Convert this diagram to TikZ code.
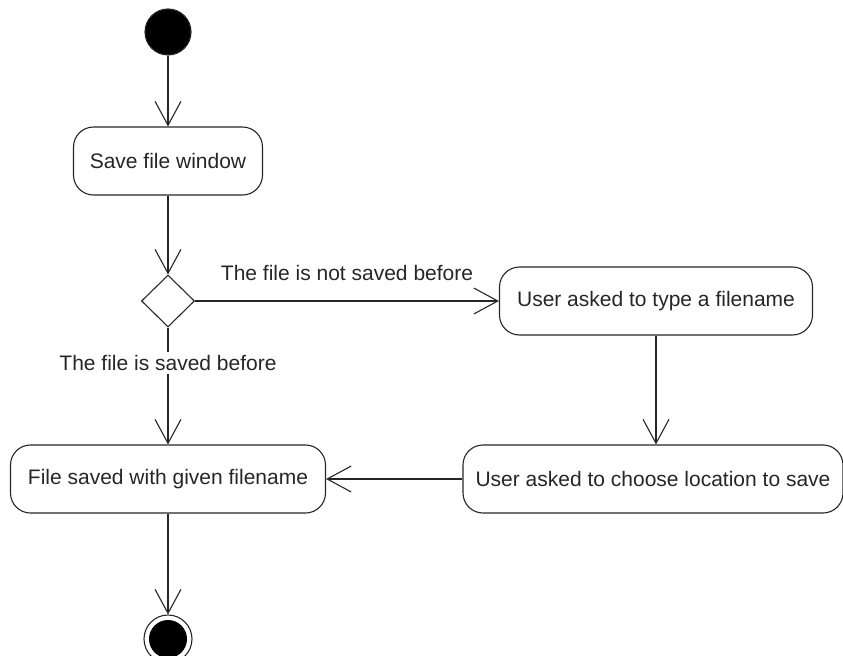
\documentclass[tikz,border=0pt]{standalone}
\usepackage{fontspec}
\setmainfont{Liberation Sans}
\usetikzlibrary{shapes,arrows.meta}
\tikzset{
        action/.style={draw, rounded corners=20bp, minimum height=68bp, font=\fontsize{21bp}{25bp}\selectfont},
        decision/.style={draw, diamond, minimum width=53bp, minimum height=52bp, inner sep=0pt},
        startdot/.style={draw, fill=black, circle, minimum size=46bp, inner sep=0pt},
        enddot/.style={draw, circle, minimum size=48bp, inner sep=0pt, path picture={\fill [black] (path picture bounding box.center) circle (19bp);}},
        flow/.style={-{Straight Barb[length=24bp, width=26bp]}},
        guard/.style={font=\fontsize{21bp}{25bp}\selectfont}
    }

\begin{document}
\begin{tikzpicture}[x=1bp, y=-1bp, line width=1.1bp, black!85]
            \useasboundingbox (0, 0) rectangle (843, 656);
            \clip (0, 0) rectangle (843, 656);
            \node [startdot] (start) at (168, 32) {};
            \node [action, minimum width=189bp] (window) at (168, 161) {Save file window};
            \node [decision] (choice) at (168, 301) {};
            \node [action, minimum width=313bp] (type) at (656, 301) {User asked to type a filename};
            \node [action, minimum width=380bp] (location) at (653, 479) {User asked to choose location to save};
            \node [action, minimum width=315bp] (saved) at (168, 479) {File saved with given filename};
            \node [enddot] (end) at (168, 639) {};

            \draw [flow] (start) -- (window);
            \draw [flow] (window) -- (choice);
            \draw [flow] (choice) -- node [guard, above=16bp] {The file is not saved before} (type);
            \draw [flow] (choice) -- node [guard, pos=0.3, fill=white] {The file is saved before} (saved);
            \draw [flow] (type) -- (type |- location.north);
            \draw [flow] (location) -- (saved);
            \draw [flow] (saved) -- (end);
        \end{tikzpicture}
\end{document}
